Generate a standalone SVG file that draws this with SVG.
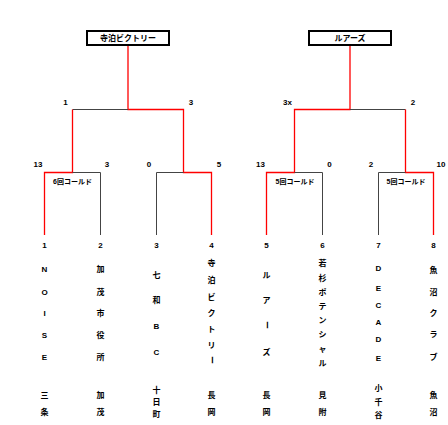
<svg xmlns="http://www.w3.org/2000/svg" width="448" height="425" viewBox="0 0 448 425">
<style>
text{font-family:"Liberation Sans","Noto Sans CJK JP",sans-serif;font-weight:bold;font-size:8px;fill:#000;text-anchor:middle}
.cold{font-size:7px}
.box{fill:#fff;stroke:#000;stroke-width:2}
.w{fill:none;stroke:#ff0000;stroke-width:1.3}
.l{fill:none;stroke:#444;stroke-width:1}
</style>
<rect width="448" height="425" fill="#fff"/>
<g id="connectors">
<path class="w" d="M128,46V109.5H183.5V172.5H211.5V235"/>
<path class="l" d="M128,109.5H72.5"/>
<path class="w" d="M72.5,109.5V172.5H44.5V235"/>
<path class="l" d="M72.5,172.5H100.5V235"/>
<path class="l" d="M183.5,172.5H156.5V235"/>
<path class="w" d="M350,46V109.5H294.5V172.5H266.5V235"/>
<path class="l" d="M294.5,172.5H322.5V235"/>
<path class="l" d="M350,109.5H405.5"/>
<path class="w" d="M405.5,109.5V172.5H433.5V235"/>
<path class="l" d="M405.5,172.5H378.5V235"/>
</g>
<g id="scores">
<text x="65.5" y="105">1</text>
<text x="191" y="105">3</text>
<text x="287.5" y="105">3x</text>
<text x="413" y="105">2</text>
<text x="38" y="167">13</text>
<text x="107" y="167">3</text>
<text x="149" y="167">0</text>
<text x="219" y="167">5</text>
<text x="260.5" y="167">13</text>
<text x="329.5" y="167">0</text>
<text x="371" y="167">2</text>
<text x="441" y="167">10</text>
<text class="cold" x="72.5" y="183.5">6回コールド</text>
<text class="cold" x="295" y="183.5">5回コールド</text>
<text class="cold" x="406" y="183.5">5回コールド</text>
</g>
<g id="champion-left">
<rect class="box" x="87" y="31" width="82" height="14"/>
<text x="128" y="41">寺泊ビクトリー</text>
</g>
<g id="champion-right">
<rect class="box" x="309" y="31" width="82" height="14"/>
<text x="350" y="41">ルアーズ</text>
</g>
<g id="team1">
<text x="44.5" y="248">1</text>
<text x="44.5" y="272">N</text><text x="44.5" y="294.7">O</text><text x="44.5" y="315.7">I</text><text x="44.5" y="338">S</text><text x="44.5" y="360.3">E</text>
<text x="44.5" y="398">三</text><text x="44.5" y="415">条</text>
</g>
<g id="team2">
<text x="100.5" y="248">2</text>
<text x="100.5" y="272">加</text><text x="100.5" y="294.7">茂</text><text x="100.5" y="315.7">市</text><text x="100.5" y="338">役</text><text x="100.5" y="360.3">所</text>
<text x="100.5" y="398">加</text><text x="100.5" y="415">茂</text>
</g>
<g id="team3">
<text x="156.5" y="248">3</text>
<text x="156.5" y="278">七</text><text x="156.5" y="303">和</text><text x="156.5" y="329">B</text><text x="156.5" y="354.7">C</text>
<text x="156.5" y="393">十</text><text x="156.5" y="405.3">日</text><text x="156.5" y="417.3">町</text>
</g>
<g id="team4">
<text x="211.5" y="248">4</text>
<text x="211.5" y="266.3">寺</text><text x="211.5" y="283">泊</text><text x="211.5" y="299.7">ビ</text><text x="211.5" y="315.7">ク</text><text x="211.5" y="332">ト</text><text x="211.5" y="348">リ</text><text transform="translate(211.5,360) rotate(90)" x="0" y="3">ー</text>
<text x="211.5" y="398">長</text><text x="211.5" y="415">岡</text>
</g>
<g id="team5">
<text x="266.5" y="248">5</text>
<text x="266.5" y="278">ル</text><text x="266.5" y="303">ア</text><text transform="translate(266.5,325) rotate(90)" x="0" y="3">ー</text><text x="266.5" y="354.7">ズ</text>
<text x="266.5" y="398">長</text><text x="266.5" y="415">岡</text>
</g>
<g id="team6">
<text x="322.5" y="248">6</text>
<text x="322.5" y="266.3">若</text><text x="322.5" y="280.5">杉</text><text x="322.5" y="294.7">ポ</text><text x="322.5" y="308.9">テ</text><text x="322.5" y="323.1">ン</text><text x="322.5" y="337.3">シ</text><text x="322.5" y="351.5">ャ</text><text x="322.5" y="365.7">ル</text>
<text x="322.5" y="398">見</text><text x="322.5" y="415">附</text>
</g>
<g id="team7">
<text x="378.5" y="248">7</text>
<text x="378.5" y="271.3">D</text><text x="378.5" y="291.3">E</text><text x="378.5" y="308">C</text><text x="378.5" y="324.7">A</text><text x="378.5" y="342.3">D</text><text x="378.5" y="361.3">E</text>
<text x="378.5" y="391.3">小</text><text x="378.5" y="404.7">千</text><text x="378.5" y="418">谷</text>
</g>
<g id="team8">
<text x="433.5" y="248">8</text>
<text x="433.5" y="273">魚</text><text x="433.5" y="294.7">沼</text><text x="433.5" y="316.3">ク</text><text x="433.5" y="337.3">ラ</text><text x="433.5" y="359.7">ブ</text>
<text x="433.5" y="398">魚</text><text x="433.5" y="415">沼</text>
</g>
</svg>
